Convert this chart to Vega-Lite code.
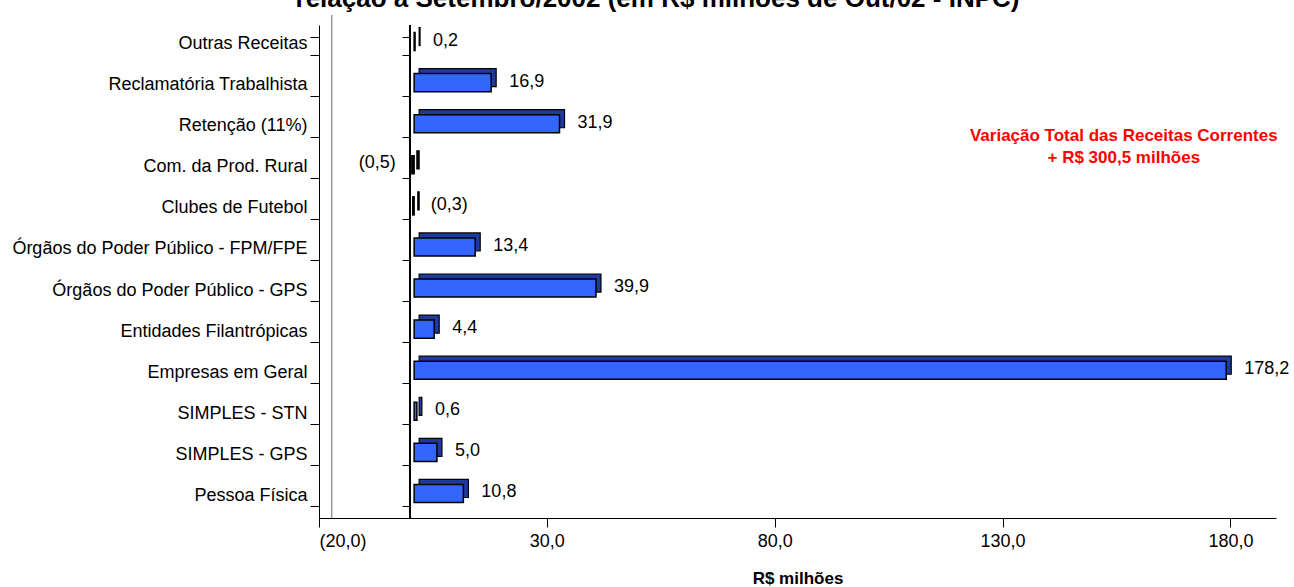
{
  "$schema": "https://vega.github.io/schema/vega-lite/v6.json",
  "width": 957,
  "height": 493,
  "autosize": {"type": "none"},
  "padding": {"left": 319, "top": 25, "right": 18, "bottom": 69},
  "background": "white",
  "config": {
    "locale": {"number": {"decimal": ",", "thousands": ".", "grouping": [3], "currency": ["R$ ", ""]}},
    "view": {"stroke": null},
    "font": "Liberation Sans"
  },
  "title": {
    "text": "relação a Setembro/2002 (em R$ milhões de Out/02 - INPC)",
    "fontSize": 26,
    "fontWeight": "bold",
    "font": "Liberation Sans",
    "color": "black",
    "anchor": "middle",
    "frame": "group",
    "dx": -140,
    "baseline": "alphabetic",
    "offset": -19
  },
  "datasets": {
    "receitas": [
      {"categoria": "Outras Receitas", "valor": 0.2},
      {"categoria": "Reclamatória Trabalhista", "valor": 16.9},
      {"categoria": "Retenção (11%)", "valor": 31.9},
      {"categoria": "Com. da Prod. Rural", "valor": -0.5},
      {"categoria": "Clubes de Futebol", "valor": -0.3},
      {"categoria": "Órgãos do Poder Público - FPM/FPE", "valor": 13.4},
      {"categoria": "Órgãos do Poder Público - GPS", "valor": 39.9},
      {"categoria": "Entidades Filantrópicas", "valor": 4.4},
      {"categoria": "Empresas em Geral", "valor": 178.2},
      {"categoria": "SIMPLES - STN", "valor": 0.6},
      {"categoria": "SIMPLES - GPS", "valor": 5.0},
      {"categoria": "Pessoa Física", "valor": 10.8}
    ],
    "nota": [
      {"categoria": "Retenção (11%)", "valor": 156.6, "texto": "Variação Total das Receitas Correntes\n+ R$ 300,5 milhões"}
    ],
    "parede": [
      {"valor": -17.2}
    ]
  },
  "data": {"name": "receitas"},
  "encoding": {
    "y": {
      "field": "categoria",
      "type": "nominal",
      "sort": null,
      "scale": {"paddingInner": 0.56, "paddingOuter": 0.28},
      "axis": null
    },
    "x": {
      "field": "valor",
      "type": "quantitative",
      "scale": {"domain": [-20, 190], "nice": false, "zero": false},
      "axis": {
        "values": [-20, 30, 80, 130, 180],
        "format": "(.1f",
        "title": "R$ milhões",
        "grid": false,
        "domainColor": "black",
        "tickColor": "black",
        "tickSize": 9,
        "labelFontSize": 18,
        "labelColor": "black",
        "labelPadding": 5,
        "titleFontSize": 17,
        "titleFontWeight": "bold",
        "titleColor": "black",
        "titlePadding": 20
      }
    }
  },
  "layer": [
    {
      "data": {"name": "parede"},
      "mark": {"type": "rule", "color": "#808080", "strokeWidth": 1.2, "yOffset": -10, "y2Offset": -13},
      "encoding": {"x": {"field": "valor", "type": "quantitative"}, "y": null}
    },
    {
      "mark": {"type": "rule", "color": "black", "strokeWidth": 1.2},
      "encoding": {"x": {"datum": 0}, "y": null}
    },
    {
      "mark": {"type": "bar", "xOffset": 9, "yOffset": -9, "stroke": "black", "strokeWidth": 1.2},
      "encoding": {
        "fill": {"condition": {"test": "datum.valor < 0", "value": "#111111"}, "value": "#1F3A9E"}
      }
    },
    {
      "mark": {"type": "bar", "xOffset": 4, "yOffset": -4, "stroke": "black", "strokeWidth": 1.5},
      "encoding": {
        "fill": {"condition": {"test": "datum.valor < 0", "value": "#000000"}, "value": "#3366FF"},
        "y": {
          "field": "categoria",
          "type": "nominal",
          "sort": null,
          "axis": {
            "title": null,
            "labelFontSize": 18,
            "labelColor": "black",
            "labelPadding": 3,
            "labelLimit": 400,
            "labelOffset": -2,
            "ticks": true,
            "tickBand": "extent",
            "tickSize": 9,
            "tickColor": "black",
            "domainColor": "black"
          }
        }
      }
    },
    {
      "mark": {"type": "text", "opacity": 0},
      "encoding": {
        "text": {"value": ""},
        "y": {
          "field": "categoria",
          "type": "nominal",
          "sort": null,
          "axis": {
            "title": null,
            "orient": "left",
            "offset": -91,
            "labels": false,
            "domain": false,
            "ticks": true,
            "tickBand": "extent",
            "tickSize": 8,
            "tickColor": "black"
          }
        }
      }
    },
    {
      "transform": [{"filter": "datum.categoria !== 'Com. da Prod. Rural'"}],
      "mark": {"type": "text", "align": "left", "dx": 22, "dy": -5, "fontSize": 18, "color": "black"},
      "encoding": {"text": {"field": "valor", "type": "quantitative", "format": "(.1f"}}
    },
    {
      "transform": [{"filter": "datum.categoria === 'Com. da Prod. Rural'"}],
      "mark": {"type": "text", "align": "right", "dx": -12, "dy": -6, "fontSize": 18, "color": "black"},
      "encoding": {"text": {"field": "valor", "type": "quantitative", "format": "(.1f"}}
    },
    {
      "data": {"name": "nota"},
      "mark": {"type": "text", "align": "center", "baseline": "middle", "lineBreak": "\n", "lineHeight": 22, "dy": 8, "fontSize": 17, "fontWeight": "bold", "color": "#FF0000"},
      "encoding": {"text": {"field": "texto"}}
    }
  ],
  "resolve": {"axis": {"y": "independent"}}
}
